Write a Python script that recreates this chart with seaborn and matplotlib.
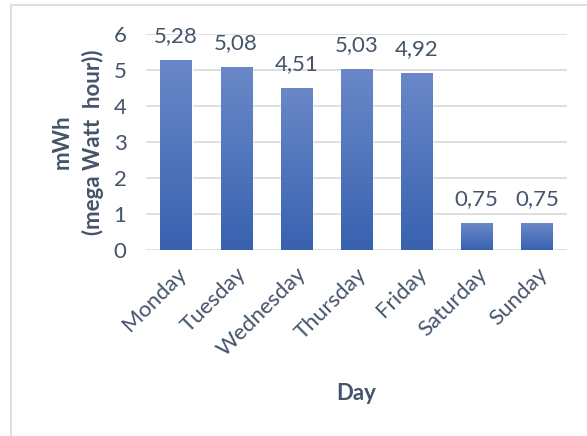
import matplotlib
matplotlib.use("Agg")
import matplotlib.pyplot as plt
import seaborn as sns
import numpy as np
import pandas as pd
from matplotlib.patches import Rectangle
from matplotlib.colors import LinearSegmentedColormap

days = ["Monday", "Tuesday", "Wednesday", "Thursday", "Friday", "Saturday", "Sunday"]
energy = [5.28, 5.08, 4.51, 5.03, 4.92, 0.75, 0.75]
yticks = [0, 1, 2, 3, 4, 5, 6]

df = pd.DataFrame({"Day": days, "mWh": energy})

sns.set_style("white")
plt.rcParams["font.family"] = ["Lato", "DejaVu Sans"]
TXT = "#44546A"
FS = 16

fig = plt.figure(figsize=(5.87, 4.36), dpi=100)
ax = fig.add_axes([146/587, 1-250/436, (567-146)/587, (250-34)/436])

sns.barplot(data=df, x="Day", y="mWh", ax=ax, color="#4A72BC", width=0.52, saturation=1)

# gradient fill for bars
cmap = LinearSegmentedColormap.from_list("g", ["#3862B0", "#6A88C8"])
grad = np.linspace(0, 1, 256).reshape(-1, 1)
for p in ax.patches:
    x0, y0 = p.get_x(), p.get_y()
    w, h = p.get_width(), p.get_height()
    im = ax.imshow(grad, cmap=cmap, origin="lower", aspect="auto",
                   extent=[x0, x0 + w, y0, y0 + h], zorder=p.get_zorder() + 0.1)
    im.set_clip_path(p)
ax.set_xlim(-0.5, len(days) - 0.5)
ax.set_ylim(0, 6)
ax.set_yticks(yticks)
ax.yaxis.grid(True, color="#D9D9D9", linewidth=1.2)
ax.set_axisbelow(True)
for s in ax.spines.values():
    s.set_visible(False)

labels = [f"{v:.2f}".replace(".", ",") for v in energy]
ax.bar_label(ax.containers[0], labels=labels, padding=10, fontsize=FS, color=TXT)

ax.tick_params(axis="y", length=0, pad=14, labelsize=FS, labelcolor=TXT)
ax.tick_params(axis="x", length=0, pad=10, labelsize=FS, labelcolor=TXT)
plt.setp(ax.get_xticklabels(), rotation=45, ha="right", rotation_mode="anchor")

ax.set_xlabel("Day", fontsize=FS, fontweight="bold", color=TXT, labelpad=16)
ax.set_ylabel("")
fig.text(78/587, 1 - 142/436, "mWh\n(mega Watt  hour))", fontsize=FS, fontweight="bold",
         color=TXT, rotation=90, ha="center", va="center", multialignment="center",
         linespacing=1.5)

fig.patches.append(Rectangle((11/587, -0.1), 1.2, 1 - 5/436 + 0.1, transform=fig.transFigure,
                             fill=False, edgecolor="#D9D9D9", linewidth=1.2))

fig.savefig("out.png", dpi=100)
